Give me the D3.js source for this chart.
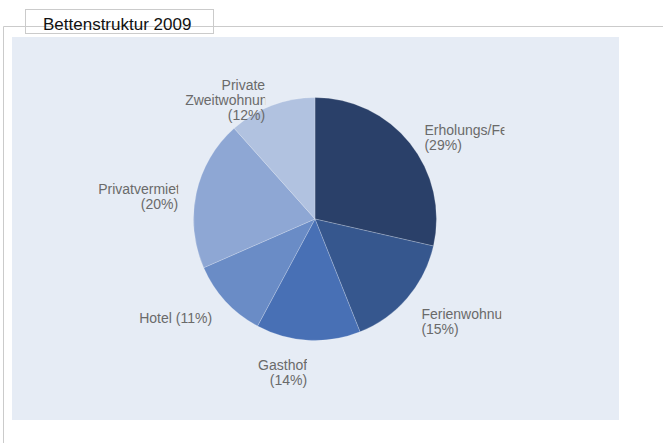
<!DOCTYPE html>
<html>
<head>
<meta charset="utf-8">
<script src="https://cdn.jsdelivr.net/npm/d3@7"></script>
<style>
  body { margin: 0; background: #fff; }
  svg { display: block; }
</style>
</head>
<body>
<svg id="chart" width="663" height="443"></svg>
<script>
// Bettenstruktur 2009 – share of beds per accommodation type
const chartTitle = "Bettenstruktur 2009";
const categories = [
  "Erholungs/Ferienheime",
  "Ferienwohnungen",
  "Gasthof",
  "Hotel",
  "Privatvermieter",
  "Private Zweitwohnungen"
];
const shares = [28.6, 15.4, 13.9, 10.6, 20.0, 11.6];
const sliceColors = ["#2a4069", "#36578e", "#4870b5", "#6a8cc6", "#8ea7d4", "#b1c2e0"];

const data = categories.map((c, i) => ({ name: c, value: shares[i], color: sliceColors[i] }));
const total = d3.sum(shares);

const svg = d3.select("#chart");
const font = "'Liberation Sans', Arial, Helvetica, sans-serif";

// Panel frame (top and left rule) with the title tab
svg.append("line").attr("x1", 3.5).attr("x2", 663).attr("y1", 26.5).attr("y2", 26.5)
  .attr("stroke", "#cbcbcb").attr("stroke-width", 1);
svg.append("line").attr("x1", 3.5).attr("x2", 3.5).attr("y1", 26.5).attr("y2", 443)
  .attr("stroke", "#cbcbcb").attr("stroke-width", 1);
svg.append("rect").attr("x", 25.5).attr("y", 9.5).attr("width", 188).attr("height", 24)
  .attr("fill", "none").attr("stroke", "#cbcbcb").attr("stroke-width", 1);
svg.append("text").attr("x", 43).attr("y", 30)
  .attr("font-family", font).attr("font-size", 17).attr("fill", "#111")
  .text(chartTitle);

// Plot background
const plot = { x: 12, y: 37, w: 607, h: 383 };
svg.append("rect").attr("x", plot.x).attr("y", plot.y).attr("width", plot.w).attr("height", plot.h)
  .attr("fill", "#e6ecf5");

// Pie
const cx = 315, cy = 219, radius = 121.5;
const pie = d3.pie().sort(null).value(d => d.value).startAngle(0).endAngle(2 * Math.PI);
const arcs = pie(data);
const arc = d3.arc().innerRadius(0).outerRadius(radius);

const g = svg.append("g").attr("transform", `translate(${cx},${cy})`);
g.selectAll("path.slice").data(arcs).join("path")
  .attr("class", "slice")
  .attr("d", arc)
  .attr("fill", d => d.data.color)
  .attr("stroke", "rgba(255,255,255,0.35)")
  .attr("stroke-width", 0.6);

// Labels: name + percentage, wrapped and truncated to a fixed box width
const labelSize = 14, lineH = 15, boxW = 80;
const labelR = 140, labelRy = 145;
const defs = svg.append("defs");
const measure = svg.append("text").attr("font-family", font).attr("font-size", labelSize)
  .attr("visibility", "hidden");
const textWidth = s => { measure.text(s); return measure.node().getComputedTextLength(); };

function wrap(str) {
  const words = str.split(" ");
  const lines = [];
  let cur = "";
  words.forEach(w => {
    const test = cur ? cur + " " + w : w;
    if (cur && textWidth(test) > boxW) { lines.push(cur); cur = w; }
    else cur = test;
  });
  if (cur) lines.push(cur);
  return lines;
}

const labels = svg.append("g").attr("font-family", font).attr("font-size", labelSize).attr("fill", "#6a6a6a");
arcs.forEach((a, i) => {
  const mid = (a.startAngle + a.endAngle) / 2;
  const onRight = Math.sin(mid) >= 0;
  const ax = cx + labelR * Math.sin(mid);
  const firstBase = cy - labelRy * Math.cos(mid) + 6;
  const pct = Math.round(a.data.value / total * 100);
  const lines = wrap(`${a.data.name} (${pct}%)`);
  const boxLeft = onRight ? ax : ax - boxW;

  const clipId = "lblclip" + i;
  defs.append("clipPath").attr("id", clipId).append("rect")
    .attr("x", boxLeft).attr("y", firstBase - 20)
    .attr("width", boxW).attr("height", lines.length * lineH + 30);

  const lg = labels.append("g").attr("clip-path", `url(#${clipId})`);
  lines.forEach((ln, k) => {
    const w = textWidth(ln);
    const truncated = w > boxW;
    let x, anchor;
    if (onRight || truncated) { x = boxLeft; anchor = "start"; }
    else { x = ax; anchor = "end"; }
    lg.append("text").attr("x", x).attr("y", firstBase + k * lineH)
      .attr("text-anchor", anchor).text(ln);
  });
});
measure.remove();
</script>
</body>
</html>
